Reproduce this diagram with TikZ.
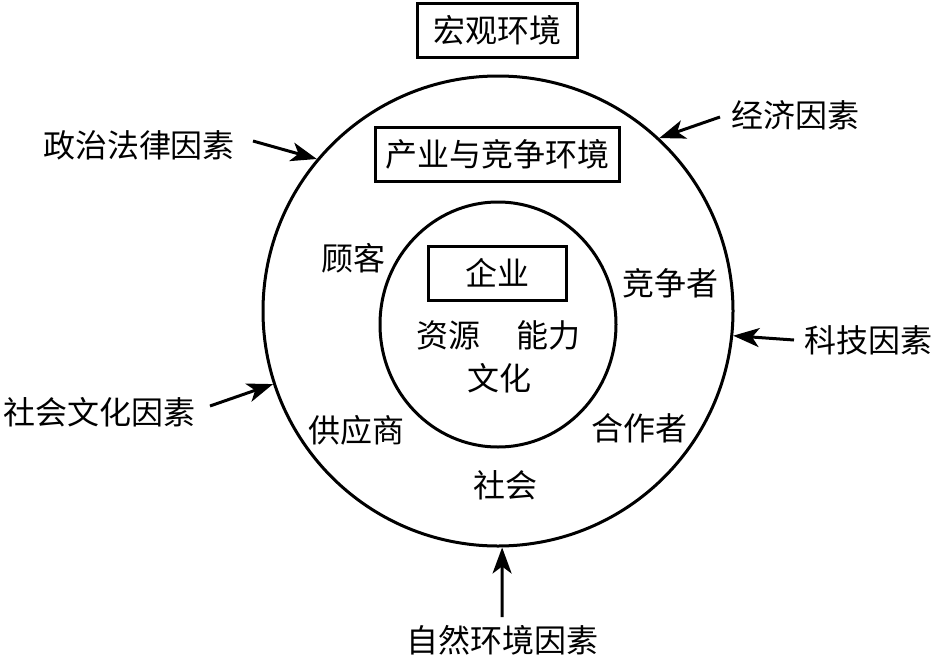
\documentclass[tikz,border=0pt]{standalone}
\usepackage{fontspec}
\newfontfamily\cjk{Noto Sans CJK SC}
\usetikzlibrary{arrows.meta,shapes.geometric}
\begin{document}
\begin{tikzpicture}[x=1pt,y=-1pt,
  txt/.style={font=\cjk\fontsize{32}{32}\selectfont, inner sep=0pt, text=black},
  boxed/.style={txt, draw, line width=3pt, minimum height=54pt},
  arr/.style={line width=3pt, -{Stealth[length=26pt,width=19pt,inset=7pt]}},
  ring/.style={draw, line width=3pt, inner sep=0pt}
]
\useasboundingbox (0,0) rectangle (935,659);
% circles
\node[ring, circle, minimum size=470pt] (outer) at (498,311) {};
\node[ring, ellipse, minimum width=236pt, minimum height=245pt] (inner) at (498,324.5) {};
% boxes
\node[boxed, minimum width=160pt] (macro) at (497.5,30.5) {宏观环境};
\node[boxed, minimum width=244pt] (industry) at (497.5,154) {产业与竞争环境};
\node[boxed, minimum width=138pt] (firm) at (497.5,273) {企业};
% inner texts
\node[txt] (res) at (448,335) {资源};
\node[txt] (cap) at (548,335) {能力};
\node[txt] (cul) at (499,378) {文化};
% ring texts
\node[txt] (cust) at (353,258) {顾客};
\node[txt] (comp) at (670,283) {竞争者};
\node[txt] (supp) at (356,430) {供应商};
\node[txt] (part) at (639,428) {合作者};
\node[txt] (soc) at (505,485) {社会};
% outer labels
\node[txt] (pol) at (139,145) {政治法律因素};
\node[txt] (sc) at (100,412) {社会文化因素};
\node[txt] (eco) at (795,115) {经济因素};
\node[txt] (tech) at (868,340) {科技因素};
\node[txt] (nat) at (502,640) {自然环境因素};
% arrow start points
\coordinate (polS) at (253,141);
\coordinate (scS) at (210,406);
\coordinate (ecoS) at (720,117);
\coordinate (techS) at (794,340);
\coordinate (natS) at (502,617);
\draw[arr] (polS) -- (outer.140.7);
\draw[arr] (scS) -- (outer.198.7);
\draw[arr] (ecoS) -- (outer.47.6);
\draw[arr] (techS) -- (outer.-6.3);
\draw[arr] (natS) -- (outer.-89);
\end{tikzpicture}
\end{document}
